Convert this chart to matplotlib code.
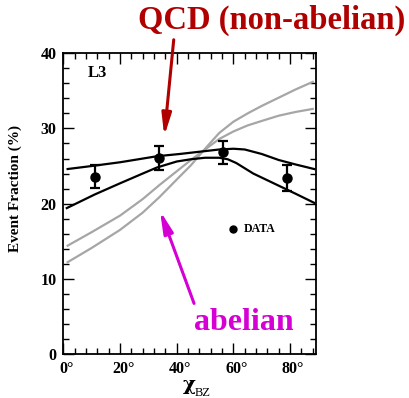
import numpy as np
import matplotlib.pyplot as plt
import matplotlib.transforms as mtransforms
from matplotlib.ticker import MultipleLocator

plt.rcParams["font.family"] = ["Liberation Serif", "DejaVu Serif"]
plt.rcParams["font.weight"] = "bold"

# data points (L3)
chi_data = [11.25, 33.75, 56.25, 78.75]
frac_data = [23.6, 26.1, 26.8, 23.4]
frac_err = [1.55, 1.6, 1.5, 1.7]

# QCD (non-abelian) band, black
qcd_x = [1.5, 10, 20, 33, 41, 48, 55, 60, 64, 70, 76, 82, 88.5]
qcd_hi = [24.6, 25.0, 25.5, 26.3, 26.6, 26.9, 27.2, 27.3, 27.2, 26.6, 25.8, 25.2, 24.6]
qcd_lo_x = [1.2, 11, 20, 28, 33, 40, 45, 50, 55, 58, 61, 64, 67, 72, 77, 82, 88.5]
qcd_lo = [19.4, 21.2, 22.7, 24.0, 24.8, 25.6, 25.9, 26.1, 26.1, 25.9, 25.4,
          24.7, 24.0, 23.1, 22.2, 21.3, 20.1]

# abelian band, gray
ab_x = [1.5, 10, 20, 28, 34, 40, 45, 50, 55, 60, 65, 70, 76, 82, 88]
ab_a = [14.4, 16.2, 18.4, 20.6, 22.5, 24.3, 25.8, 27.2, 28.6, 29.6, 30.4, 31.0, 31.7, 32.2, 32.6]
ab_b = [12.2, 14.1, 16.5, 18.8, 20.9, 23.2, 25.1, 27.3, 29.4, 30.9, 32.0, 33.0, 34.1, 35.2, 36.2]

xtick_vals = [0, 20, 40, 60, 80]
xtick_labels = ["0°", "20°", "40°", "60°", "80°"]

fig = plt.figure(figsize=(4.09, 3.98), dpi=100)
ax = fig.add_axes([0.155, 0.111, 0.618, 0.755])

gray = "#a6a6a6"
ax.plot(ab_x, ab_a, color=gray, lw=1.6)
ax.plot(ab_x, ab_b, color=gray, lw=1.6)
ax.plot(qcd_x, qcd_hi, color="black", lw=1.6)
ax.plot(qcd_lo_x, qcd_lo, color="black", lw=1.6)
ax.errorbar(chi_data, frac_data, yerr=frac_err, fmt="o", color="black",
            ms=6.5, capsize=3.5, elinewidth=1.6, capthick=1.6)

ax.set_xlim(0, 89.2)
ax.set_ylim(0, 40)
ax.xaxis.set_minor_locator(MultipleLocator(4))
ax.yaxis.set_major_locator(MultipleLocator(10))
ax.yaxis.set_minor_locator(MultipleLocator(2))
ax.set_xticks(xtick_vals)
ax.set_xticklabels(xtick_labels)
ax.tick_params(which="both", direction="in", top=True, right=True,
               labelsize=11.5, width=1.0)
ax.tick_params(which="major", length=8, pad=5)
ax.tick_params(which="minor", length=4.5)
for s in ax.spines.values():
    s.set_linewidth(1.3)
shift = mtransforms.ScaledTranslation(3 / 100, 0, fig.dpi_scale_trans)
for lab in ax.get_xticklabels():
    lab.set_transform(lab.get_transform() + shift)

fig.text(15 / 409, 1 - 188 / 398, "Event Fraction (%)", fontsize=11,
         fontweight="bold", rotation=90, ha="center", va="center")

fig.text(0.463, 0.033, "χ", fontsize=14, ha="center", va="center",
         family="DejaVu Serif")
fig.text(0.477, 0.012, "BZ", fontsize=9, ha="left", va="center",
         fontweight="normal")

ax.text(0.095, 0.935, "L3", transform=ax.transAxes, fontsize=12,
        fontweight="bold", va="center")
ax.plot([0.67], [0.417], "o", color="black", ms=5, transform=ax.transAxes)
ax.text(0.715, 0.417, "DATA", transform=ax.transAxes, fontsize=8.5,
        fontweight="bold", va="center")

red = "#b00000"
mag = "#d400d4"
fig.text(0.992, 0.948, "QCD (non-abelian)", color=red, fontsize=23.5,
         fontweight="bold", ha="right", va="center")
fig.text(0.474, 0.19, "abelian", color=mag, fontsize=23,
         fontweight="bold", ha="left", va="center")

arrow_style = "-|>,head_length=1.3,head_width=0.28"
ax.annotate("", xy=(164 / 409, 1 - 139 / 398), xytext=(174 / 409, 1 - 37 / 398),
            xycoords="figure fraction", textcoords="figure fraction",
            arrowprops=dict(arrowstyle=arrow_style, color=red, lw=2.2),
            annotation_clip=False)
ax.annotate("", xy=(159 / 409, 1 - 208 / 398), xytext=(195 / 409, 1 - 306 / 398),
            xycoords="figure fraction", textcoords="figure fraction",
            arrowprops=dict(arrowstyle=arrow_style, color=mag, lw=2.2),
            annotation_clip=False)

fig.savefig("out.png", dpi=100)
